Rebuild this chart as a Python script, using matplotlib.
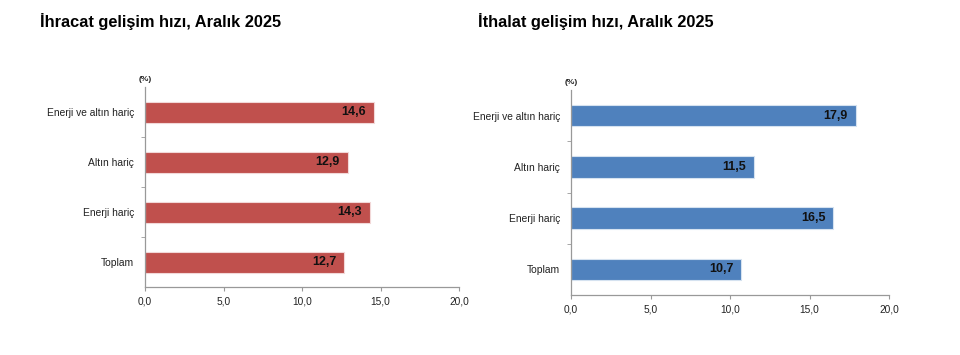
import numpy as np
import matplotlib.pyplot as plt

plt.rcParams['font.family'] = ['Liberation Sans', 'DejaVu Sans']

# categories, top to bottom
categories = ["Enerji ve altın hariç", "Altın hariç", "Enerji hariç", "Toplam"]
export_vals = [14.6, 12.9, 14.3, 12.7]
import_vals = [17.9, 11.5, 16.5, 10.7]
xticks = [0, 5, 10, 15, 20]
xtick_labels = ["0,0", "5,0", "10,0", "15,0", "20,0"]

fig = plt.figure(figsize=(9.6, 3.55), dpi=100)

def draw(ax, vals, color, edge):
    y = np.arange(len(categories))[::-1]
    ax.barh(y, vals, height=0.42, color=color, edgecolor=edge, linewidth=0.8)
    for yi, v in zip(y, vals):
        ax.text(v - 0.5, yi, f"{v:.1f}".replace(".", ","), ha="right", va="center",
                fontsize=9, fontweight="bold", color="#111111")
    ax.set_xlim(0, 20)
    ax.set_ylim(-0.5, len(categories) - 0.5)
    ax.set_xticks(xticks)
    ax.set_xticklabels(xtick_labels, fontsize=7.3, color="#222222")
    ax.set_yticks(y)
    ax.set_yticklabels(categories, fontsize=7.4, color="#222222")
    ax.set_yticks(np.arange(len(categories) - 1) + 0.5, minor=True)
    ax.tick_params(axis="y", which="major", length=0, pad=8)
    ax.tick_params(axis="y", which="minor", length=3, color="#999999")
    ax.tick_params(axis="x", length=3, color="#999999", pad=4)
    for s in ["top", "right"]:
        ax.spines[s].set_visible(False)
    for s in ["left", "bottom"]:
        ax.spines[s].set_color("#999999")
        ax.spines[s].set_linewidth(0.9)
    ax.text(0, 1.02, "(%)", transform=ax.transAxes, ha="center", va="bottom",
            fontsize=6, fontweight="bold", color="#222222")

ax1 = fig.add_axes([145/960, 1 - 287/355, 314/960, 200/355])
draw(ax1, export_vals, "#C0504D", "#f2d8d8")
ax2 = fig.add_axes([571/960, 1 - 295/355, 318/960, 205/355])
draw(ax2, import_vals, "#4F81BD", "#d5e2f0")

fig.text(40/960, 1 - 22/355, "İhracat gelişim hızı, Aralık 2025", fontsize=11.8,
         fontweight="bold", va="center", ha="left")
fig.text(478/960, 1 - 22/355, "İthalat gelişim hızı, Aralık 2025", fontsize=11.8,
         fontweight="bold", va="center", ha="left")

fig.savefig("out.png", dpi=100)
